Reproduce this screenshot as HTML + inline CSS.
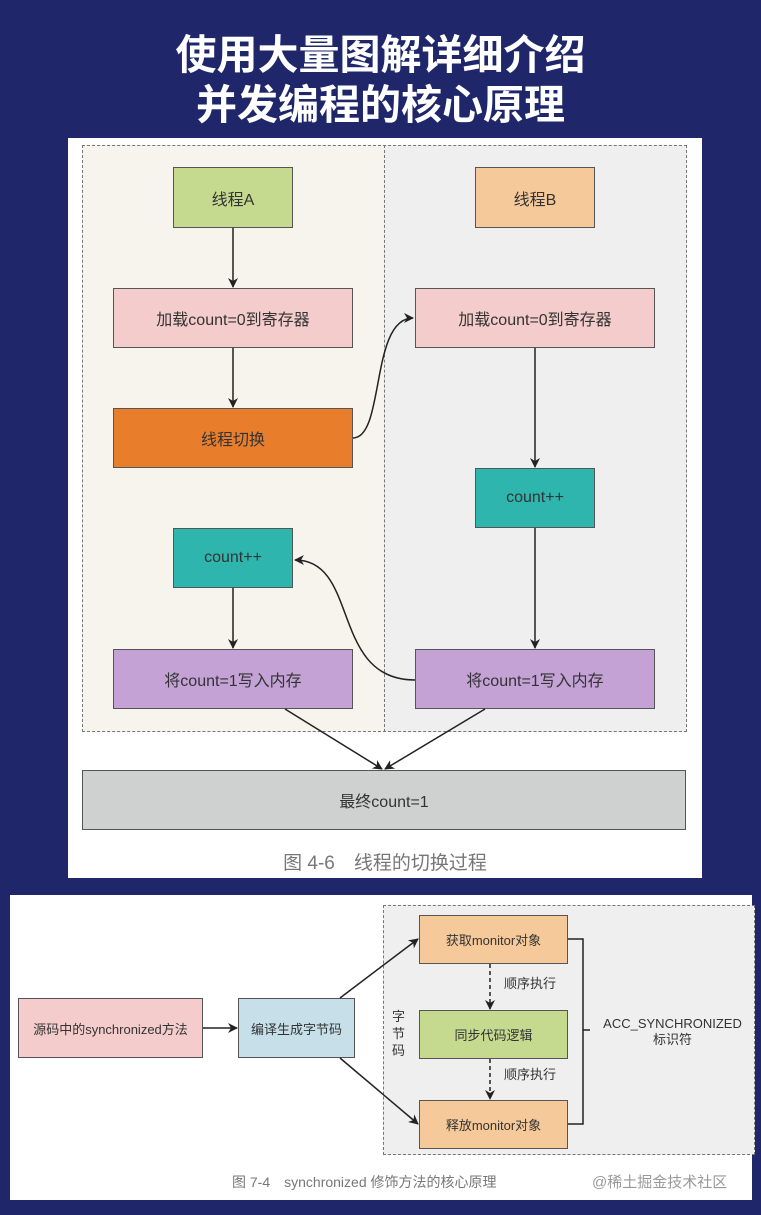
<!DOCTYPE html>
<html><head><meta charset="utf-8"><style>
body{margin:0;width:761px;height:1215px;background:#1f276a;position:relative;overflow:hidden;font-family:"Liberation Sans","Noto Sans CJK SC",sans-serif}
.t{position:absolute;left:0;width:761px;text-align:center;color:#fff;font-weight:bold;font-size:41px;font-family:"Liberation Sans","Noto Sans CJK SC",sans-serif;line-height:50px}
.b{position:absolute;box-sizing:border-box;border:1.5px solid #555;display:flex;align-items:center;justify-content:center;font-size:16px;color:#333}
.s{font-size:13px}
</style></head><body>
<div class="t" style="top:30px">使用大量图解详细介绍</div>
<div class="t" style="top:80px">并发编程的核心原理</div>

<div style="position:absolute;left:68px;top:138px;width:634px;height:740px;background:#fff"></div>
<div style="position:absolute;left:82px;top:145px;width:302px;height:587px;background:#f6f4ec"></div>
<div style="position:absolute;left:384px;top:145px;width:303px;height:587px;background:#efefef"></div>
<div style="position:absolute;left:82px;top:145px;width:605px;height:587px;box-sizing:border-box;border:1.5px dashed #777"></div>
<div style="position:absolute;left:384px;top:145px;height:587px;border-left:1.5px dashed #777"></div>

<div class="b" style="left:173px;top:167px;width:120px;height:61px;background:#c5d98f">线程A</div>
<div class="b" style="left:475px;top:167px;width:120px;height:61px;background:#f6c99a">线程B</div>
<div class="b" style="left:113px;top:288px;width:240px;height:60px;background:#f5cccc">加载count=0到寄存器</div>
<div class="b" style="left:415px;top:288px;width:240px;height:60px;background:#f5cccc">加载count=0到寄存器</div>
<div class="b" style="left:113px;top:408px;width:240px;height:60px;background:#e87e2c">线程切换</div>
<div class="b" style="left:475px;top:468px;width:120px;height:60px;background:#2eb5ad">count++</div>
<div class="b" style="left:173px;top:528px;width:120px;height:60px;background:#2eb5ad">count++</div>
<div class="b" style="left:113px;top:649px;width:240px;height:60px;background:#c4a2d5">将count=1写入内存</div>
<div class="b" style="left:415px;top:649px;width:240px;height:60px;background:#c4a2d5">将count=1写入内存</div>
<div class="b" style="left:82px;top:770px;width:604px;height:60px;background:#cfd1d1">最终count=1</div>
<div style="position:absolute;left:68px;width:634px;top:848px;text-align:center;color:#777;font-size:19px">图 4-6　线程的切换过程</div>

<div style="position:absolute;left:10px;top:895px;width:742px;height:305px;background:#fff"></div>
<div style="position:absolute;left:383px;top:905px;width:372px;height:250px;box-sizing:border-box;background:#efefef;border:1.5px dashed #777"></div>
<div class="b s" style="left:18px;top:998px;width:185px;height:60px;background:#f5cccc">源码中的synchronized方法</div>
<div class="b s" style="left:238px;top:998px;width:117px;height:60px;background:#c6dfe9">编译生成字节码</div>
<div class="b s" style="left:419px;top:915px;width:149px;height:49px;background:#f6c99a">获取monitor对象</div>
<div class="b s" style="left:419px;top:1010px;width:149px;height:49px;background:#c5d98f">同步代码逻辑</div>
<div class="b s" style="left:419px;top:1100px;width:149px;height:49px;background:#f6c99a">释放monitor对象</div>
<div style="position:absolute;left:392px;top:1008px;width:16px;font-size:13px;color:#333;line-height:17px">字节码</div>
<div style="position:absolute;left:504px;top:973px;font-size:13px;color:#333">顺序执行</div>
<div style="position:absolute;left:504px;top:1064px;font-size:13px;color:#333">顺序执行</div>
<div style="position:absolute;left:590px;top:1016px;width:165px;text-align:center;font-size:13px;color:#333;line-height:16px">ACC_SYNCHRONIZED<br>标识符</div>
<div style="position:absolute;left:232px;top:1172px;font-size:14px;color:#777">图 7-4　synchronized 修饰方法的核心原理</div>
<div style="position:absolute;left:592px;top:1171px;font-size:15px;color:#999">@稀土掘金技术社区</div>

<svg width="761" height="1215" style="position:absolute;left:0;top:0">
<defs><marker id="a" markerWidth="10" markerHeight="10" refX="9" refY="5" orient="auto" markerUnits="userSpaceOnUse"><path d="M0,0 L10,5 L0,10 L3,5 z" fill="#222"/></marker></defs>
<g stroke="#222" stroke-width="1.5" fill="none" marker-end="url(#a)">
<line x1="233" y1="228" x2="233" y2="287"/>
<line x1="233" y1="348" x2="233" y2="407"/>
<line x1="535" y1="348" x2="535" y2="467"/>
<line x1="535" y1="528" x2="535" y2="648"/>
<line x1="233" y1="588" x2="233" y2="648"/>
<path d="M353,438 C385,438 370,318 413,318"/>
<path d="M415,680 C330,680 360,560 295,560"/>
<line x1="285" y1="709" x2="382" y2="769"/>
<line x1="485" y1="709" x2="385" y2="769"/>
<line x1="203" y1="1028" x2="237" y2="1028"/>
<line x1="340" y1="998" x2="418" y2="939"/>
<line x1="340" y1="1058" x2="418" y2="1124"/>
<line x1="490" y1="964" x2="490" y2="1009" stroke-dasharray="4,3"/>
<line x1="490" y1="1059" x2="490" y2="1099" stroke-dasharray="4,3"/>
</g>
<path d="M568,939 H583 V1124 H568 M583,1030 H590" stroke="#222" stroke-width="1.5" fill="none"/>
</svg>
</body></html>
